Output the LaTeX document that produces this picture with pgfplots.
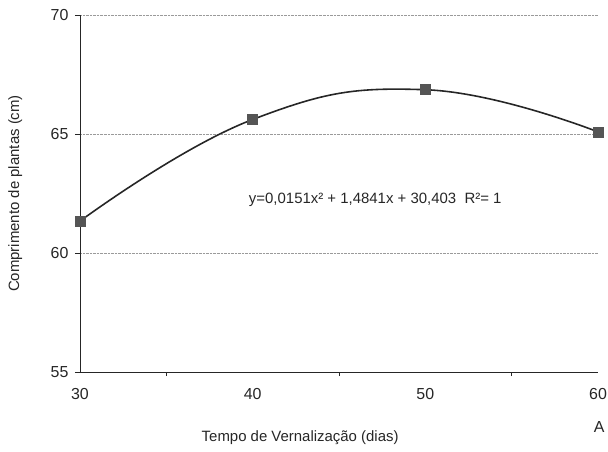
\documentclass[border=0pt]{standalone}
\usepackage{pgfplots}
\pgfplotsset{compat=1.18}
\usepackage{fontspec}
\setmainfont{Liberation Sans}
\definecolor{mk}{HTML}{555555}
\definecolor{ln}{HTML}{262626}
\definecolor{gr}{HTML}{9A9A9A}
\begin{document}
\begin{tikzpicture}
\begin{axis}[
  at={(0,0)}, anchor=south west,
  scale only axis, width=518bp, height=357bp,
  xmin=30, xmax=60, ymin=55, ymax=70,
  axis x line*=bottom, axis y line*=left,
  axis line style={line width=0.9pt, color=black!85},
  xtick={30,40,50,60}, minor xtick={35,45,55},
  ytick={55,60,65,70},
  major x tick style={draw=none},
  minor tick length=4bp, major tick length=5bp,
  tick align=outside,
  tick style={line width=0.8pt, color=black!85},
  ymajorgrids, grid style={densely dotted, color=gr, line width=0.6pt},
  /pgf/number format/assume math mode=true,
  ticklabel style={font=\fontsize{16}{19}\selectfont, color=black!85},
  yticklabel style={xshift=-3bp},
  xticklabel style={yshift=-8bp},
  xlabel={Tempo de Vernalização (dias)},
  ylabel={Comprimento de plantas (cm)},
  label style={font=\fontsize{15}{18}\selectfont, color=black!85},
  xlabel style={at={(axis description cs:0.425,-0.185)}, anchor=center},
  ylabel style={at={(axis description cs:-0.125,0.5)}, anchor=center},
  clip=false,
]
\addplot[color=ln, line width=1.6pt, smooth, tension=0.75, mark=square*, mark size=5bp,
  mark options={fill=mk, draw=mk, line width=0.5pt}]
  coordinates {(30,61.34) (40,65.61) (50,66.86) (60,65.09)};
\node[font=\fontsize{15}{18}\selectfont, color=black!85] at (axis cs:47.1,62.25)
  {y=0,0151x² + 1,4841x + 30,403\ \ R²= 1};
\end{axis}
\node[font=\fontsize{16}{19}\selectfont, color=black!85, anchor=east] at (528bp,-55bp) {A};
\pgfresetboundingbox
\path[use as bounding box] (-80bp,-80bp) rectangle (528bp,372bp);
\end{tikzpicture}
\end{document}
